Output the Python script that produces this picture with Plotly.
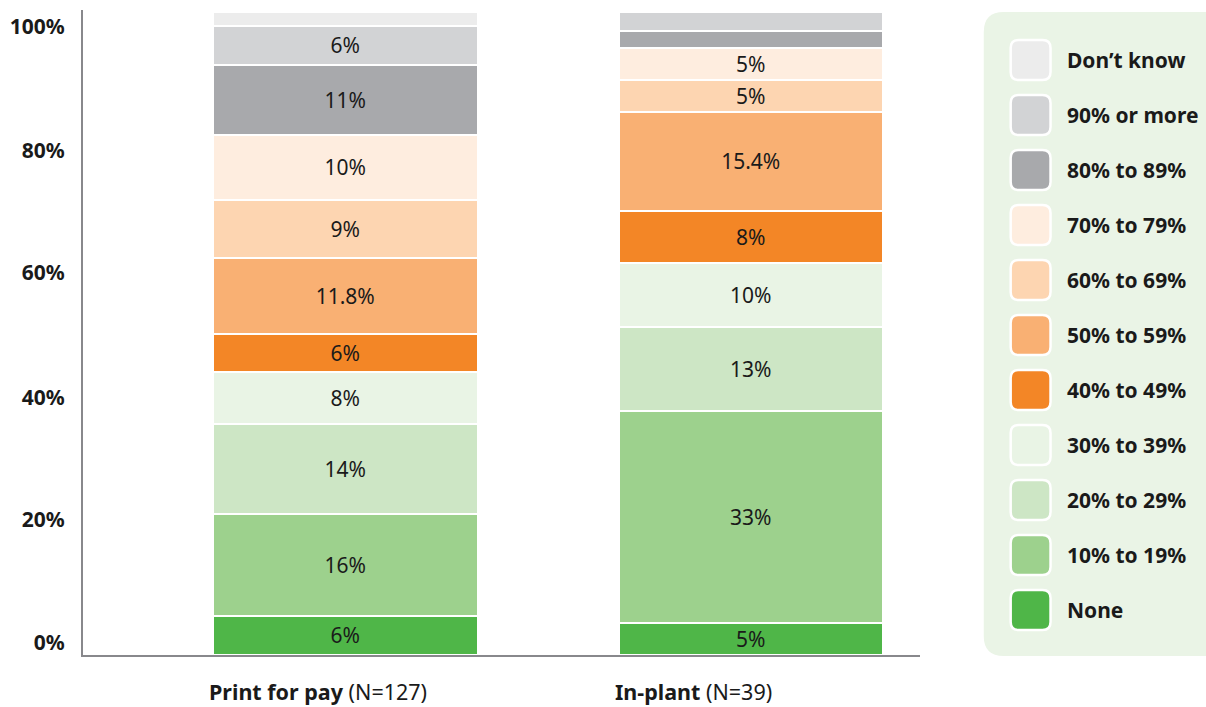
import plotly.graph_objects as go

# ---------------- data ----------------
categories = ["Print for pay", "In-plant"]
sample_sizes = ["(N=127)", "(N=39)"]
series_names = ["None", "10% to 19%", "20% to 29%", "30% to 39%", "40% to 49%",
                "50% to 59%", "60% to 69%", "70% to 79%", "80% to 89%",
                "90% or more", "Don’t know"]
print_for_pay = [6, 16, 14, 8, 6, 11.8, 9, 10, 11, 6, 2.2]
in_plant = [5, 33, 13, 10, 8, 15.4, 5, 5, 2.7, 2.9, 0]
tick_labels = ["0%", "20%", "40%", "60%", "80%", "100%"]
tick_positions = [1.9, 21.0, 40.1, 59.4, 78.5, 97.7]

colors = ["#4fb648", "#9dd18d", "#cde6c5", "#e9f4e5", "#f38626", "#f9b073",
          "#fdd5b1", "#feeddf", "#a8a9ac", "#d2d3d5", "#ececec"]

# ---------------- layout geometry ----------------
W, H = 1206, 707
ML, MR, MT, MB = 80, 286, 10, 52
PW, PH = W - ML - MR, H - MT - MB
BAR_W = 0.652
FONT = "Noto Sans"


def px_to_paper(x, y):
    """window pixel -> paper coordinates"""
    return (x - ML) / PW, (H - MB - y) / PH


def rounded_rect(px0, py0, px1, py1, rad):
    a = px_to_paper
    p = lambda x, y: f"{a(x, y)[0]:.5f},{a(x, y)[1]:.5f}"
    return (f"M {p(px0 + rad, py0)} L {p(px1 - rad, py0)} "
            f"Q {p(px1, py0)} {p(px1, py0 + rad)} L {p(px1, py1 - rad)} "
            f"Q {p(px1, py1)} {p(px1 - rad, py1)} L {p(px0 + rad, py1)} "
            f"Q {p(px0, py1)} {p(px0, py1 - rad)} L {p(px0, py0 + rad)} "
            f"Q {p(px0, py0)} {p(px0 + rad, py0)} Z")


fig = go.Figure()
for i, name in enumerate(series_names):
    vals = [print_for_pay[i], in_plant[i]]
    txt = [f"{v:g}%" if v >= 4 else "" for v in vals]
    fig.add_trace(go.Bar(
        x=[0, 1], y=vals, name=name, width=BAR_W,
        marker=dict(color=colors[i], line=dict(color="white", width=2.5)),
        text=txt, textposition="inside", insidetextanchor="middle",
        textangle=0, constraintext="none",
        textfont=dict(family=FONT, size=21, color="#1a1a1a"),
        showlegend=False, hoverinfo="name+y",
    ))

# category labels (left aligned with bars)
for i, (c, n) in enumerate(zip(categories, sample_sizes)):
    fig.add_annotation(x=i - BAR_W / 2, xref="x", xshift=-6, y=px_to_paper(0, 691)[1],
                       yref="paper", xanchor="left", yanchor="middle", showarrow=False,
                       text=f"<b>{c}</b> {n}", font=dict(family=FONT, size=21.5, color="#1a1a1a"))

# custom legend
shapes = [dict(type="path", xref="paper", yref="paper",
               path=rounded_rect(984, 12, 1250, 656, 20),
               fillcolor="#eaf4e6", line=dict(width=0), layer="below")]

legend_order = list(reversed(range(len(series_names))))
for k, idx in enumerate(legend_order):
    cy = 60 + 55 * k
    shapes.append(dict(type="path", xref="paper", yref="paper",
                       path=rounded_rect(1011, cy - 20, 1051, cy + 20, 8),
                       fillcolor=colors[idx], line=dict(color="white", width=2.5)))
    tx, ty = px_to_paper(1066, cy)
    fig.add_annotation(x=tx, y=ty, xref="paper", yref="paper", xanchor="left",
                       yanchor="middle", showarrow=False,
                       text=f"<b>{series_names[idx]}</b>",
                       font=dict(family=FONT, size=21, color="#1a1a1a"))

fig.update_layout(
    barmode="stack", width=W, height=H,
    margin=dict(l=ML, r=MR, t=MT, b=MB),
    plot_bgcolor="white", paper_bgcolor="white",
    shapes=shapes, bargap=0,
    xaxis=dict(range=[-0.647, 1.417], showgrid=False, zeroline=False,
               showticklabels=False, showline=True, linecolor="#88888c",
               linewidth=2, fixedrange=True),
    yaxis=dict(range=[0, PH / 6.43], showgrid=False, zeroline=False,
               showline=True, linecolor="#88888c", linewidth=2,
               tickvals=tick_positions, ticktext=tick_labels, ticks="",
               ticklabelstandoff=12, fixedrange=True,
               tickfont=dict(family=FONT, size=21, color="#1a1a1a", weight="bold")),
)

fig.write_html("out.html", config={"displayModeBar": False},
               post_script="document.body.style.margin='0';document.body.style.overflow='hidden';")
